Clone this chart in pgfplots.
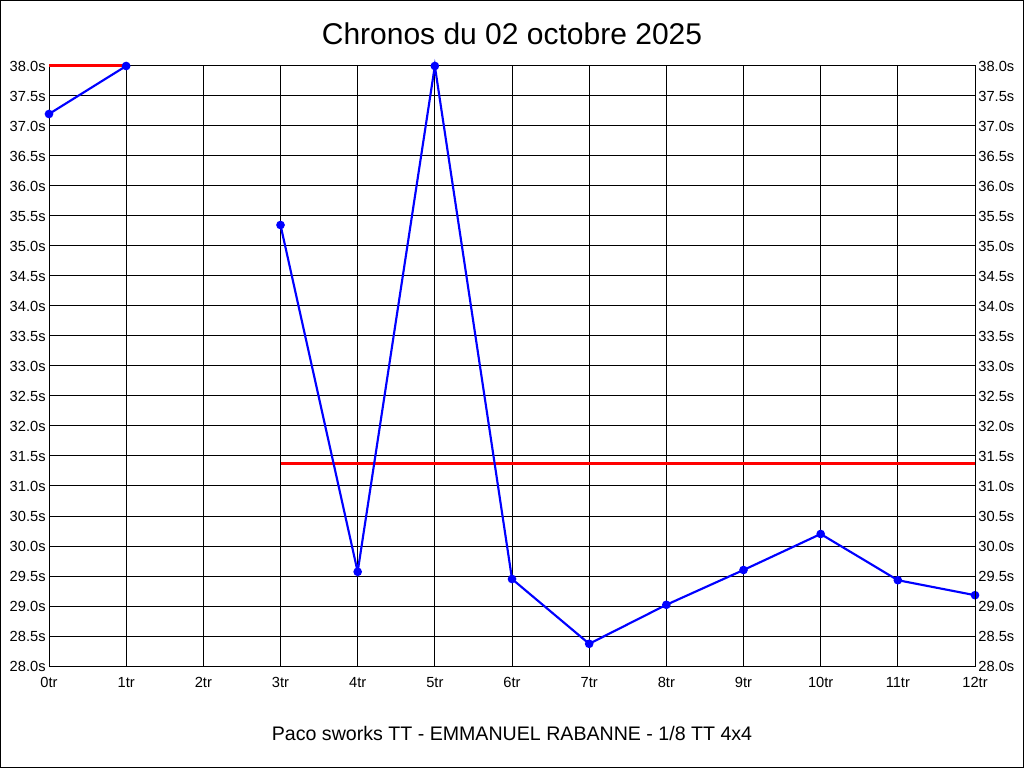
\documentclass[border=0pt]{standalone}
\usepackage{pgfplots}
\pgfplotsset{compat=1.18}
\usepackage{fontspec}
\setmainfont{Liberation Sans}
\begin{document}
\begin{tikzpicture}[x=0.75pt,y=0.75pt]
\useasboundingbox (0,0) rectangle (1024,768);
\draw[line width=0.75pt] (0.5,0.5) rectangle (1023.5,767.5);
\node[font=\fontsize{22.5}{26}\selectfont] at (512,734) {Chronos du 02 octobre 2025};
\node[font=\fontsize{14.7}{17}\selectfont] at (512,35) {Paco sworks TT - EMMANUEL RABANNE - 1/8 TT 4x4};
\begin{axis}[
  at={(36.75pt,76.5pt)}, anchor=south west,
  scale only axis, width=694.5pt, height=450pt,
  xmin=0, xmax=12, ymin=28, ymax=38,
  xtick={0,...,12}, ytick={28,28.5,...,38.01},
  grid=major, major grid style={black, line width=0.75pt},
  axis line style={black, line width=0.75pt},
  major tick length=0pt,
  /pgf/number format/assume math mode=true,
  tick label style={font=\fontsize{11}{13}\selectfont},
  xticklabel={\pgfmathprintnumber{\tick}tr},
  yticklabel={\pgfmathprintnumber[fixed,fixed zerofill,precision=1]{\tick}s},
  yticklabel style={xshift=1pt},
  xticklabel style={yshift=-5pt},
  clip=false,
]
\addplot[red, line width=2.25pt] coordinates {(0,38) (1,38)};
\addplot[red, line width=2.25pt] coordinates {(3,31.38) (12,31.38)};
\addplot[blue, line width=1.6pt, mark=*, mark size=2.4pt] coordinates {(0,37.2) (1,38.0)};
\addplot[blue, line width=1.6pt, mark=*, mark size=2.4pt] coordinates {
(3,35.35) (4,29.57) (5,38.0) (6,29.45) (7,28.37) (8,29.02) (9,29.6) (10,30.2) (11,29.43) (12,29.18)};
\end{axis}
\begin{axis}[
  at={(36.75pt,76.5pt)}, anchor=south west,
  scale only axis, width=694.5pt, height=450pt,
  xmin=0, xmax=12, ymin=28, ymax=38,
  axis x line=none, axis y line*=right,
  ytick={28,28.5,...,38.01},
  axis line style={black, line width=0.75pt},
  major tick length=0pt,
  /pgf/number format/assume math mode=true,
  tick label style={font=\fontsize{11}{13}\selectfont},
  yticklabel={\pgfmathprintnumber[fixed,fixed zerofill,precision=1]{\tick}s},
  yticklabel style={xshift=-1pt},
]
\end{axis}
\end{tikzpicture}
\end{document}
